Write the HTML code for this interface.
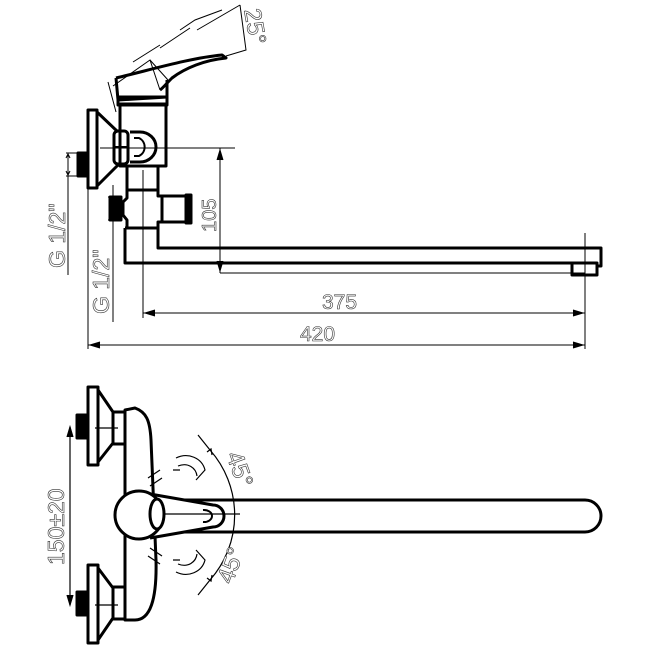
<!DOCTYPE html>
<html><head><meta charset="utf-8"><style>
html,body{margin:0;padding:0;background:#fff}
svg{display:block}
text{font-family:"Liberation Sans",sans-serif;fill:#fff;stroke:#333;stroke-width:0.6}
</style></head><body>
<svg width="650" height="650" viewBox="0 0 650 650" xmlns="http://www.w3.org/2000/svg">
<g fill="none" stroke="#000" stroke-width="3" stroke-linejoin="round">
<path d="M116,78 C150,70 190,58 222,55 L226,58 C205,60 185,68 172,78 C166,84 163,88 160,90" />
<path d="M116,78 L118,100 L167,97 L167,80"/>
<rect x="118" y="97" width="49" height="8"/>
<rect x="120" y="104" width="46" height="62"/>
<rect x="88" y="110" width="9" height="78"/>
<path d="M97,112 L118,132 M97,186 L118,165"/>
<rect x="114" y="131" width="14" height="33" rx="4"/>
<line x1="114" y1="147" x2="128" y2="147" stroke-width="2"/>
<path d="M130,132 L140,132 A16,15 0 0 1 140,162 L130,162"/>
<path d="M134,138 L139,138 A10,10 0 0 1 139,156 L134,156" stroke-width="2"/>
<path d="M127,166 L127,190 L158,190 L158,166"/>
<path d="M127,190 L127,198 L123,202 L123,215 L127,220 L127,228 M158,190 L158,196 L162,196 M158,228 L158,222 L162,222"/>
<rect x="162" y="196" width="26" height="26"/>
<rect x="186" y="195" width="5" height="28"/>
<path d="M125,228 L158,228 L158,248 L585,248 L601,248 L601,266 L596,266"/>
<path d="M125,228 L125,263 L572,263"/>
<rect x="572" y="263" width="25" height="12"/>
<rect x="78" y="153" width="10" height="23" fill="#000"/>
<rect x="110" y="197" width="11" height="23" fill="#000"/>
</g>
<g fill="none" stroke="#000" stroke-width="1">
<path d="M108,82 L116,112 M113,86 L150,60 L160,90 M150,60 L168,80"/>
<path d="M133,62 L160,45 M160,48 L190,28 M180,30 L195,20 L222,10 M197,30 L240,5 M240,5 L246,50 L226,56"/>
<line x1="100" y1="148" x2="235" y2="148"/>
<line x1="143" y1="170" x2="143" y2="318"/>
<line x1="585" y1="233" x2="585" y2="349"/>
<line x1="220" y1="273" x2="585" y2="273"/>
<line x1="220" y1="148" x2="220" y2="273"/>
<path d="M217,160 L220,150 L223,160 M217,261 L220,271 L223,261" fill="#000"/>
<line x1="143" y1="313" x2="585" y2="313"/>
<path d="M155,310 L145,313 L155,316 M573,310 L583,313 L573,316" fill="#000"/>
<line x1="88" y1="188" x2="88" y2="349"/>
<line x1="88" y1="345" x2="585" y2="345"/>
<path d="M100,342 L90,345 L100,348 M573,342 L583,345 L573,348" fill="#000"/>
<path d="M66,153 L88,153 M66,176 L78,176 M68,153 L68,275"/>
<path d="M66,158 L68,154 L70,158 M66,171 L68,175 L70,171"/>
<path d="M108,197 L113,197 M108,220 L113,220 M113,185 L113,322"/>
</g>
<text x="0" y="0" font-size="23" transform="translate(65,268) rotate(-90)">G 1/2"</text>
<text x="0" y="0" font-size="23" transform="translate(109,314) rotate(-90)">G 1/2"</text>
<text x="0" y="0" font-size="20" transform="translate(216,232) rotate(-90)">105</text>
<text x="322" y="309" font-size="21">375</text>
<text x="300" y="341" font-size="21">420</text>
<text x="0" y="0" font-size="24" transform="translate(244,10) rotate(80)">25°</text>

<g fill="none" stroke="#000" stroke-width="3" stroke-linejoin="round">
<path d="M125,410 L135,408 C146,412 150,420 151,440 L156,560 C157,600 150,620 135,620 L125,620 Z"/>
<rect x="88" y="387" width="10" height="78"/>
<path d="M98,390 L113,412 M98,462 L113,443"/>
<rect x="113" y="412" width="12" height="32"/>
<rect x="88" y="565" width="10" height="78"/>
<path d="M98,568 L113,588 M98,640 L113,618"/>
<rect x="113" y="587" width="12" height="32"/>
<path d="M150,500 L585,500 A16,16 0 0 1 585,532 L150,532"/>
<path d="M150,494 L213,505 A10,10 0 0 1 213,527 L150,538" fill="#fff"/>
<circle cx="139" cy="515" r="24" fill="#fff"/>
<ellipse cx="157" cy="514" rx="7" ry="15" fill="#fff"/>
<rect x="77" y="415" width="10" height="23" fill="#000"/>
<rect x="77" y="592" width="10" height="23" fill="#000"/>
</g>
<g fill="none" stroke="#000" stroke-width="1.2">
<path d="M203,510 A8,6 0 0 1 212,516 A8,6 0 0 1 203,522" stroke-width="2"/>
<path d="M165,514 L240,514"/>
<path d="M210,450 A98,98 0 0 1 210,580" />
<path d="M198,435 L210,450 M198,595 L210,580"/>
<path d="M207,452 L211,449 L212,455 M207,578 L211,581 L212,575"/>
<path d="M176,458 C188,452 202,458 205,470 L196,480 M178,466 C188,462 196,468 197,476 M173,470 L180,470"/>
<path d="M176,572 C188,578 202,572 205,560 L196,550 M178,564 C188,568 196,562 197,554 M173,560 L180,560"/>
<path d="M148,478 L160,470 M150,486 L162,478 M150,548 L162,556 M148,556 L160,564"/>
<path d="M118,428 L95,428 M118,605 L95,605"/>
<line x1="70" y1="427" x2="70" y2="605"/>
<path d="M67,437 L70,427 L73,437 M67,595 L70,605 L73,595" fill="#000"/>
</g>
<text x="0" y="0" font-size="23" transform="translate(64,565) rotate(-90)">150±20</text>
<text x="0" y="0" font-size="24" transform="translate(226,455) rotate(70)">45°</text>
<text x="0" y="0" font-size="24" transform="translate(232,585) rotate(-70)">45°</text>
</svg>
</body></html>
